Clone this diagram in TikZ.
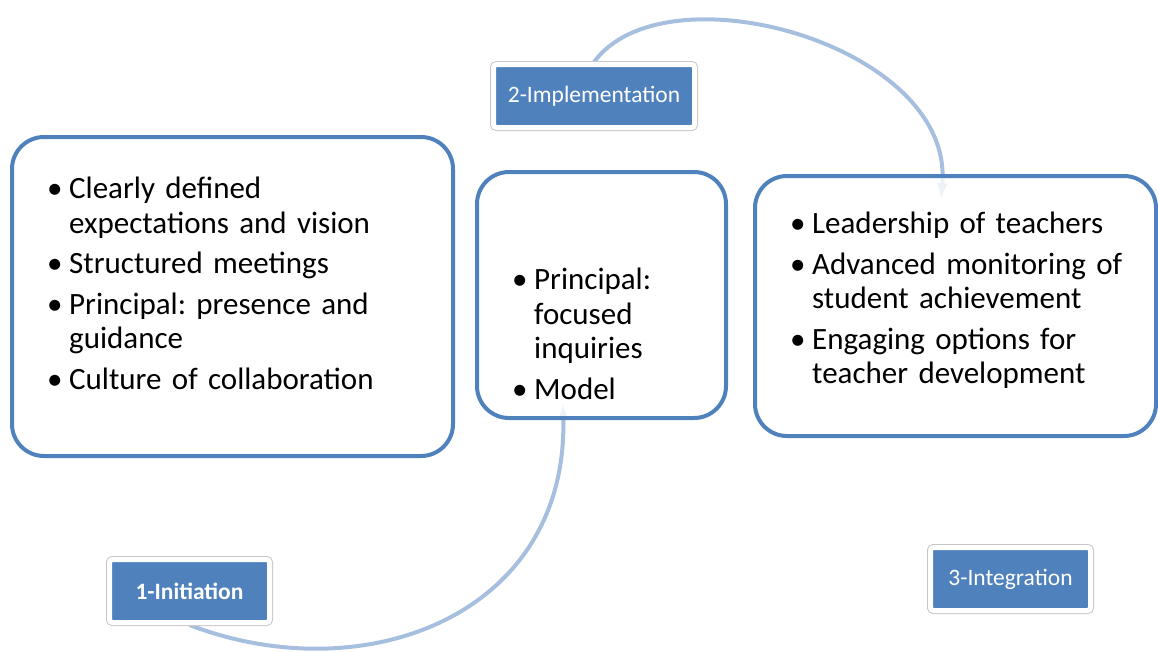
\documentclass[tikz,border=0pt]{standalone}
\usepackage{fontspec}
\setmainfont{Carlito}
\usetikzlibrary{backgrounds}
\definecolor{boxblue}{HTML}{4F81BD}
\definecolor{arcblue}{HTML}{A7BFDE}
\newcommand{\bitem}[1]{\par\hangindent=22pt\hangafter=1\noindent
  \makebox[22pt][l]{\textbullet}\strut#1}
\begin{document}
\begin{tikzpicture}
[x=1pt,y=-1pt,%
  bigbox/.style={draw=boxblue,line width=4pt,fill=white,fill opacity=0.8,rounded corners=32pt},%
  stagebox/.style={fill=boxblue,draw=white,line width=5pt,rounded corners=3pt,
    preaction={draw=black!22,line width=7pt},text=white,inner sep=0pt,
    minimum height=63pt,font=\fontsize{23.5}{26}\selectfont},%
  bullets/.style={anchor=north west,inner sep=0pt,text width=400pt,align=left,
    font=\fontsize{31}{34.5}\selectfont\setlength{\parskip}{6pt}\frenchspacing},%
  cycle/.style={draw=arcblue,line width=4pt,-latex}]
\useasboundingbox (0,0) rectangle (1158,651);
\node[stagebox,minimum width=160pt] (init) at (189.5,591) {\bfseries 1-Initiation};
\node[stagebox,minimum width=201pt] (impl) at (594,96) {2-Implementation};
\node[stagebox,minimum width=160pt] (integ) at (1010.5,579) {3-Integration};
\coordinate (ltip) at (563,405);
\coordinate (rtip) at (941,198);
\node[bigbox,minimum width=441pt,minimum height=319pt] (lbox) at (232.5,296.5) {};
\node[bigbox,minimum width=249pt,minimum height=246pt] (mbox) at (601.5,295) {};
\node[bigbox,minimum width=401pt,minimum height=260pt] (rbox) at (955.5,306) {};
% arcs behind the boxes
\begin{pgfonlayer}{background}
\draw[cycle] (init.south) .. controls (365,692) and (568,615) .. (ltip);
\draw[cycle] (impl.north) .. controls (665,-35) and (955,45) .. (rtip);
\end{pgfonlayer}
\node[bullets] (ltext) at (47,158) {%
  \bitem{Clearly defined\newline expectations and vision}
  \bitem{Structured meetings}
  \bitem{Principal: presence and\newline guidance}
  \bitem{Culture of collaboration}\par};
\node[bullets] (mtext) at (512,249) {%
  \bitem{Principal:\newline focused\newline inquiries}
  \bitem{Model}\par};
\node[bullets] (rtext) at (790,193) {%
  \bitem{Leadership of teachers}
  \bitem{Advanced monitoring of\newline student achievement}
  \bitem{Engaging options for\newline teacher development}\par};
\end{tikzpicture}
\end{document}
